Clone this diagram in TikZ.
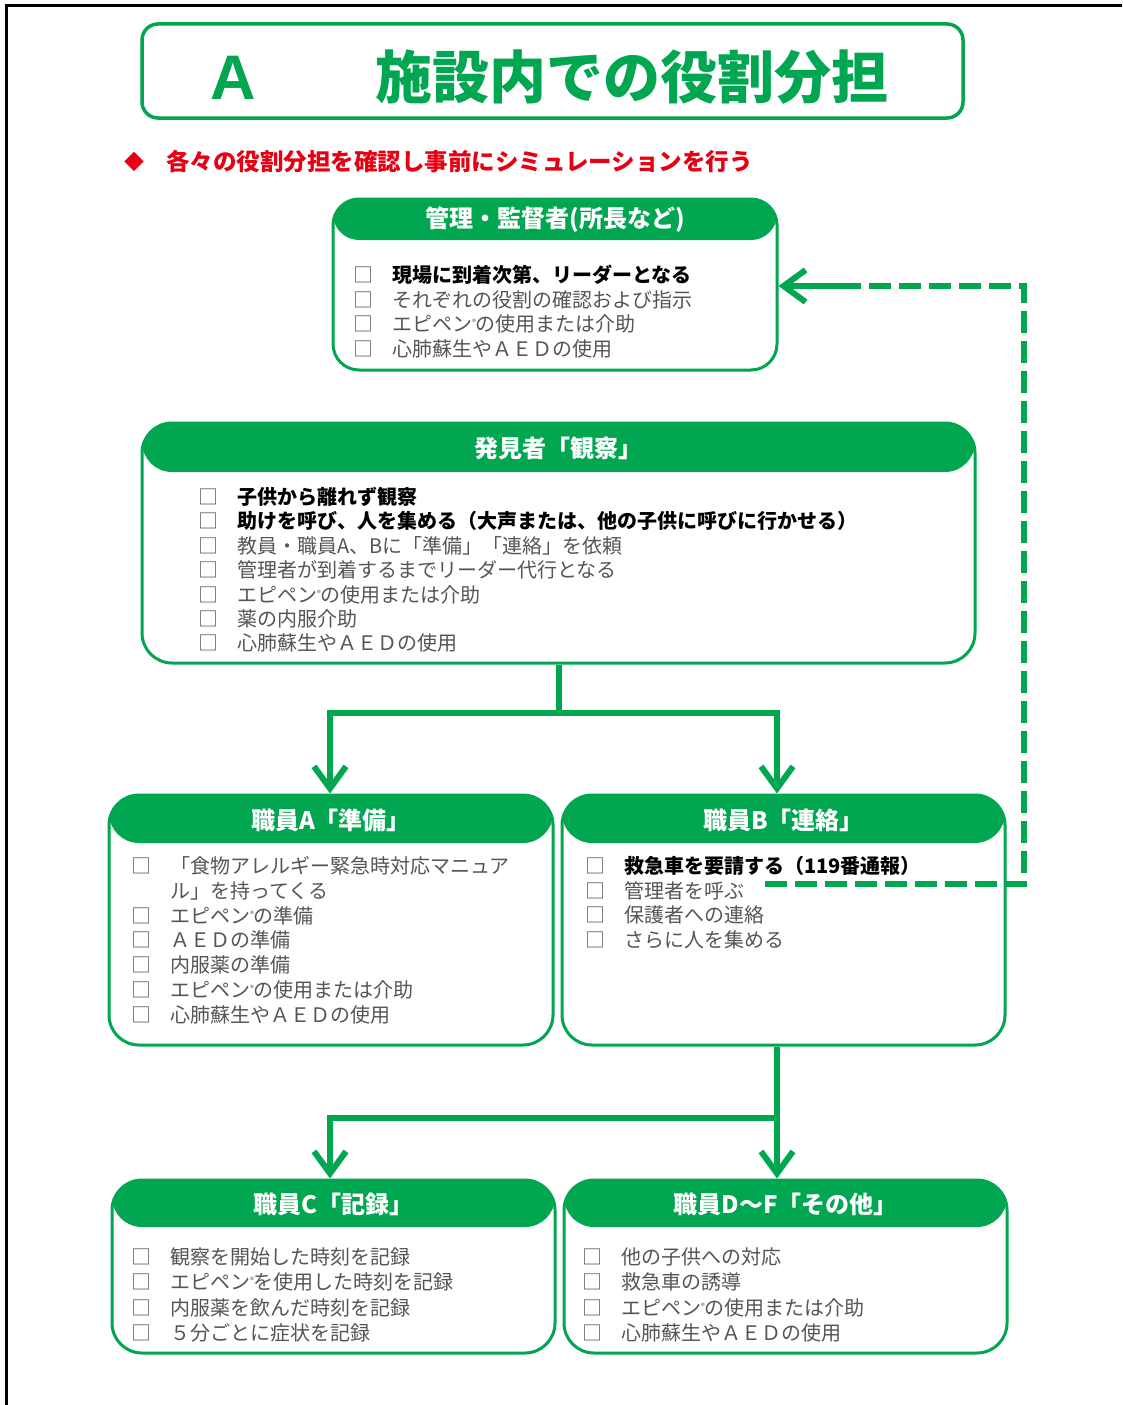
\documentclass[tikz,border=0pt]{standalone}
\usepackage{fontspec}
\setmainfont{Noto Sans CJK JP}
\newfontfamily\lib{Liberation Sans}
\usetikzlibrary{arrows.meta}
\definecolor{gr}{RGB}{0,166,80}
\definecolor{rd}{RGB}{230,0,18}
\definecolor{tx}{RGB}{85,85,85}
\newcommand\reg{\raisebox{6pt}{\fontsize{8}{8}\selectfont ®}}
\newcommand\cbx[1]{\makebox[39pt][l]{\color{tx}□}#1}
\newcommand\bl[1]{{\bfseries\color{black}#1}}
\newcommand\itemlist[5]{%
  \foreach \t [count=\i] in {#5}
    \node[item] (#1\i) at (#2, {#3+(\i-1)*#4+7.5}) {\cbx{\t}};}
\begin{document}
\begin{tikzpicture}[x=1pt,y=-1pt,
  panel/.style={draw=gr, line width=3pt, fill=white, inner sep=0pt, rectangle,
    rounded corners=30pt,
    path picture={\fill[gr] ([yshift=3pt]path picture bounding box.north west)
      rectangle ([yshift=-#1]path picture bounding box.north east);}},
  hdr/.style={text=white, font=\fontsize{24}{24}\selectfont\bfseries, inner sep=0pt},
  item/.style={anchor=base west, inner sep=0pt, text=tx, font=\fontsize{20}{20}\selectfont},
  conn/.style={draw=gr, line width=6pt},
  arr/.style={conn, -{Straight Barb[length=22pt, width=32pt]}},
  dsh/.style={draw=gr, line width=6pt, dash pattern=on 22pt off 8pt},
]
\useasboundingbox (0,0) rectangle (1122,1405);
% page frame
\draw[line width=3pt] (6.5,1405) -- (6.5,5.5) -- (1122,5.5);

% title
\node[draw=gr, line width=3.5pt, rounded corners=16pt, minimum width=821pt, minimum height=94pt] (tbox) at (552.5,71) {};
\node[text=gr, font=\lib\fontsize{63}{63}\selectfont\bfseries, inner sep=0pt] (tA) at (233,78) {A};
\node[text=gr, font=\fontsize{57}{57}\selectfont\bfseries, inner sep=0pt] (tT) at (632,77) {施設内での役割分担};

% subtitle
\node[text=rd, font=\fontsize{20}{20}\selectfont, inner sep=0pt] (dia) at (134,162) {◆};
\node[text=rd, font=\fontsize{23.5}{24}\selectfont\bfseries, anchor=west, inner sep=0pt] (sub) at (166,162) {各々の役割分担を確認し事前にシミュレーションを行う};

% panels
\node[panel=41pt, rounded corners=26pt, minimum width=444pt, minimum height=171pt] (mgr) at (555,284.5) {};
\node[panel=49pt, minimum width=833pt, minimum height=240pt] (obs) at (558.5,543) {};
\node[panel=48pt, minimum width=444pt, minimum height=250pt] (sa) at (331,920) {};
\node[panel=48pt, minimum width=443pt, minimum height=250pt] (sb) at (783.5,920) {};
\node[panel=47pt, minimum width=443pt, minimum height=173pt] (sc) at (333.5,1266.5) {};
\node[panel=47pt, minimum width=443pt, minimum height=173pt] (sd) at (785.5,1266.5) {};

% headers
\node[hdr] (hm) at (555,220) {管理・監督者(所長など)};
\node[hdr] (ho) at (558.5,448) {発見者「観察」};
\node[hdr] (ha) at (331,820) {職員A「準備」};
\node[hdr] (hb) at (783.5,820) {職員B「連絡」};
\node[hdr] (hc) at (333.5,1204) {職員C「記録」};
\node[hdr] (hd) at (785.5,1204) {職員D～F「その他」};

% items
\itemlist{m}{353}{275}{24.7}{\bl{現場に到着次第、リーダーとなる}, それぞれの役割の確認および指示, エピペン\reg の使用または介助, 心肺蘇生やＡＥＤの使用}
\itemlist{o}{198}{497}{24.4}{\bl{子供から離れず観察}, \bl{助けを呼び、人を集める（大声または、他の子供に呼びに行かせる）}, 教員・職員A、Bに「準備」「連絡」を依頼, 管理者が到着するまでリーダー代行となる, エピペン\reg の使用または介助, 薬の内服介助, 心肺蘇生やＡＥＤの使用}
\node[item] (a0) at (131,{866+7.5}) {\cbx{「食物アレルギー緊急時対応マニュア}};
\node[item] (a0b) at (131,{866+24.8+7.5}) {\hspace*{39pt}ル」を持ってくる};
\itemlist{a}{131}{915.6}{24.8}{エピペン\reg の準備, ＡＥＤの準備, 内服薬の準備, エピペン\reg の使用または介助, 心肺蘇生やＡＥＤの使用}
\itemlist{b}{585}{866}{24.7}{\bl{救急車を要請する（119番通報）}, 管理者を呼ぶ, 保護者への連絡, さらに人を集める}
\itemlist{c}{131}{1257}{25.3}{観察を開始した時刻を記録, エピペン\reg を使用した時刻を記録, 内服薬を飲んだ時刻を記録, ５分ごとに症状を記録}
\itemlist{d}{582}{1257}{25.3}{他の子供への対応, 救急車の誘導, エピペン\reg の使用または介助, 心肺蘇生やＡＥＤの使用}

% connectors
\coordinate (j1) at (558.5,713);
\draw[conn] (obs.south) -- (j1);
\draw[arr] (j1) -| ([xshift=-1pt]sa.north);
\draw[arr] (j1) -| ([xshift=-6.5pt]sb.north);

\coordinate (j2) at (777,1118);
\draw[conn] ([xshift=-6.5pt]sb.south) -- (j2);
\draw[arr] (j2) -| ([xshift=-3.5pt]sc.north);
\draw[arr] (j2) -- ([xshift=-8.5pt]sd.north);

% dashed feedback
\coordinate (ds) at (765,884);
\coordinate (dn) at (848,286);
\draw[dsh] (ds) -- (1024,884) -- (1024,286) -- (dn);
\draw[arr] (dn) -- (mgr.east |- dn);
\end{tikzpicture}
\end{document}
